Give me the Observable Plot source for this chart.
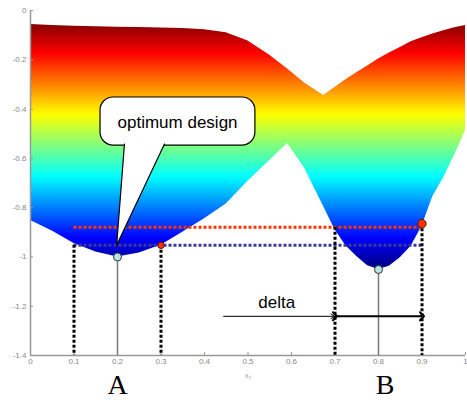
<!DOCTYPE html>
<html><head><meta charset="utf-8">
<script src="https://cdn.jsdelivr.net/npm/d3@7"></script>
<script src="https://cdn.jsdelivr.net/npm/@observablehq/plot@0.6"></script>
<style>body{margin:0;background:#fff} svg{display:block}</style>
</head><body><div id="chart"></div>
<script>
// Envelope of the response surface
const gridX  = [0, 0.05, 0.1, 0.15, 0.2, 0.25, 0.3, 0.35, 0.4, 0.45, 0.5, 0.55, 0.591, 0.63, 0.674, 0.7, 0.725, 0.75, 0.775, 0.8, 0.825, 0.85, 0.875, 0.9, 0.925, 0.95, 0.975, 1.0];
const upperY = [-0.057, -0.061, -0.064, -0.066, -0.068, -0.069, -0.071, -0.073, -0.078, -0.090, -0.124, -0.182, -0.237, -0.294, -0.345, -0.312, -0.281, -0.253, -0.225, -0.197, -0.172, -0.150, -0.127, -0.111, -0.095, -0.082, -0.070, -0.061];
const lowerY = [-0.852, -0.895, -0.945, -0.980, -1.000, -0.984, -0.953, -0.900, -0.845, -0.785, -0.693, -0.609, -0.540, -0.639, -0.796, -0.890, -0.955, -0.998, -1.036, -1.051, -1.038, -1.003, -0.957, -0.875, -0.755, -0.678, -0.586, -0.487];

const xTicks = [0, 0.1, 0.2, 0.3, 0.4, 0.5, 0.6, 0.7, 0.8, 0.9, 1];
const yTicks = [0, -0.2, -0.4, -0.6, -0.8, -1, -1.2, -1.4];

const jetValues = [-0.05, -0.175, -0.425, -0.675, -0.925, -1.05];
const jetColors = ["#7f0000", "#ff0000", "#ffff00", "#00ffff", "#0000ff", "#00007f"];

const redLevel = -0.88;
const blueLevel = -0.953;
const levelSpan = [0.1, 0.9];
const dropX   = [0.1, 0.3, 0.7, 0.9];
const dropTop = [-0.953, -0.953, -0.88, -0.865];
const optimaX = [0.2, 0.8];
const optimaY = [-1.0, -1.051];
const redDotX = [0.3, 0.9];
const redDotY = [-0.953, -0.865];
const letterText = ["A", "B"];
const letterX = [0.2, 0.815];

const bubbleText = "optimum design";
const bubbleBox = {x1: 0.161, x2: 0.517, y1: -0.353, y2: -0.548};
const bubbleTailX = [0.216, 0.198, 0.308];
const bubbleTailY = [-0.542, -0.953, -0.542];
const bubbleTextPos = {x: 0.338, y: -0.454};

const deltaText = "delta";
const deltaTextPos = {x: 0.566, y: -1.185};
const deltaY = -1.241;
const deltaLeadX = [0.444, 0.7];
const deltaSpanX = [0.7, 0.9];

const band = gridX.map((x, i) => ({x, lo: lowerY[i], hi: upperY[i]}));
const drops = dropX.map((x, i) => ({x, top: dropTop[i]}));
const optima = optimaX.map((x, i) => ({x, y: optimaY[i]}));
const redDots = redDotX.map((x, i) => ({x, y: redDotY[i]}));
const letters = letterText.map((t, i) => ({t, x: letterX[i]}));
const tail = bubbleTailX.map((x, i) => ({x, y: bubbleTailY[i]}));

const gray = "#999";
const plot = Plot.plot({
  width: 467, height: 400,
  marginLeft: 30, marginRight: 2, marginTop: 10, marginBottom: 45,
  style: {fontFamily: "Liberation Sans, Arial, sans-serif", fontSize: "8px", color: "#888", background: "white"},
  x: {domain: [0, 1], ticks: xTicks, tickSize: 0, tickPadding: 3, label: null, tickFormat: d => String(d)},
  y: {domain: [-1.4, 0], ticks: yTicks, tickSize: 0, tickPadding: 4, label: null, tickFormat: d => String(d)},
  marks: [
    Plot.areaY(band, {x: "x", y1: "lo", y2: "hi", fill: "url(#jetgrad)", curve: "linear"}),
    Plot.ruleX([0], {y1: -1.4, y2: 0, stroke: gray, strokeWidth: 1.5}),
    Plot.ruleY([-1.4], {x1: 0, x2: 1, stroke: gray, strokeWidth: 1.5}),
    Plot.tickX(xTicks, {x: d => d, insetTop: 342, stroke: gray}),
    Plot.tickY(yTicks, {y: d => d, insetRight: 432, stroke: gray}),
    // gray stems under the optima
    Plot.ruleX(optima, {x: "x", y1: "y", y2: -1.4, stroke: "#777", strokeWidth: 1.5}),
    // level lines
    Plot.ruleY([redLevel], {x1: levelSpan[0], x2: levelSpan[1], stroke: "#ff3300", strokeWidth: 3, strokeDasharray: "3,2"}),
    Plot.ruleY([blueLevel], {x1: levelSpan[0], x2: levelSpan[1], stroke: "#3a3a9a", strokeWidth: 3, strokeDasharray: "3,2"}),
    // black dotted drops
    Plot.ruleX(drops, {x: "x", y1: "top", y2: -1.4, stroke: "black", strokeWidth: 3, strokeDasharray: "3,2"}),
    // points
    Plot.dot(optima, {x: "x", y: "y", r: 4, fill: "#b8e4e4", stroke: "#333", strokeWidth: 1}),
    Plot.dot(redDots.slice(0, 1), {x: "x", y: "y", r: 3.2, fill: "#ff3300", stroke: "#661100", strokeWidth: 1}),
    Plot.dot(redDots.slice(1), {x: "x", y: "y", r: 4.2, fill: "#ff3300", stroke: "#661100", strokeWidth: 1}),
    // callout bubble
    Plot.rect([bubbleBox], {x1: "x1", x2: "x2", y1: "y1", y2: "y2", rx: 13, fill: "white", stroke: "black", strokeWidth: 1.2}),
    Plot.line(tail, {x: "x", y: "y", fill: "white", stroke: "black", strokeWidth: 1.2, curve: "linear"}),
    Plot.text([bubbleText], {x: bubbleTextPos.x, y: bubbleTextPos.y, fontSize: 17, fill: "black"}),
    // delta annotation
    Plot.arrow([0], {x1: deltaLeadX[0], x2: deltaLeadX[1], y1: deltaY, y2: deltaY, stroke: "black", strokeWidth: 1, headLength: 7}),
    Plot.link([0], {x1: deltaSpanX[0], x2: deltaSpanX[1], y1: deltaY, y2: deltaY, stroke: "black", strokeWidth: 2, markerStart: "arrow", markerEnd: "arrow"}),
    Plot.text([deltaText], {x: deltaTextPos.x, y: deltaTextPos.y, fontSize: 17, fill: "black"}),
    // axis label and letters
    Plot.text(["x\u2082"], {x: 0.5, y: -1.4, dy: 20, fontSize: 7, fill: "#999"}),
    Plot.text(letters, {x: "x", y: -1.4, text: "t", dy: 30, fontSize: 28, fontFamily: "Liberation Serif, Times New Roman, serif", fill: "black"})
  ]
});

// jet colour gradient mapped through the y scale
const ys = plot.scale("y");
const svgSel = d3.select(plot.tagName.toLowerCase() === "svg" ? plot : plot.querySelector("svg"));
const y0 = ys.apply(jetValues[0]), y1 = ys.apply(jetValues[jetValues.length - 1]);
const grad = svgSel.insert("defs", ":first-child").append("linearGradient")
  .attr("id", "jetgrad").attr("gradientUnits", "userSpaceOnUse")
  .attr("x1", 0).attr("x2", 0).attr("y1", y0).attr("y2", y1);
jetValues.forEach((v, i) => {
  grad.append("stop").attr("offset", (ys.apply(v) - y0) / (y1 - y0)).attr("stop-color", jetColors[i]);
});
document.getElementById("chart").appendChild(plot);
</script>
</body></html>
